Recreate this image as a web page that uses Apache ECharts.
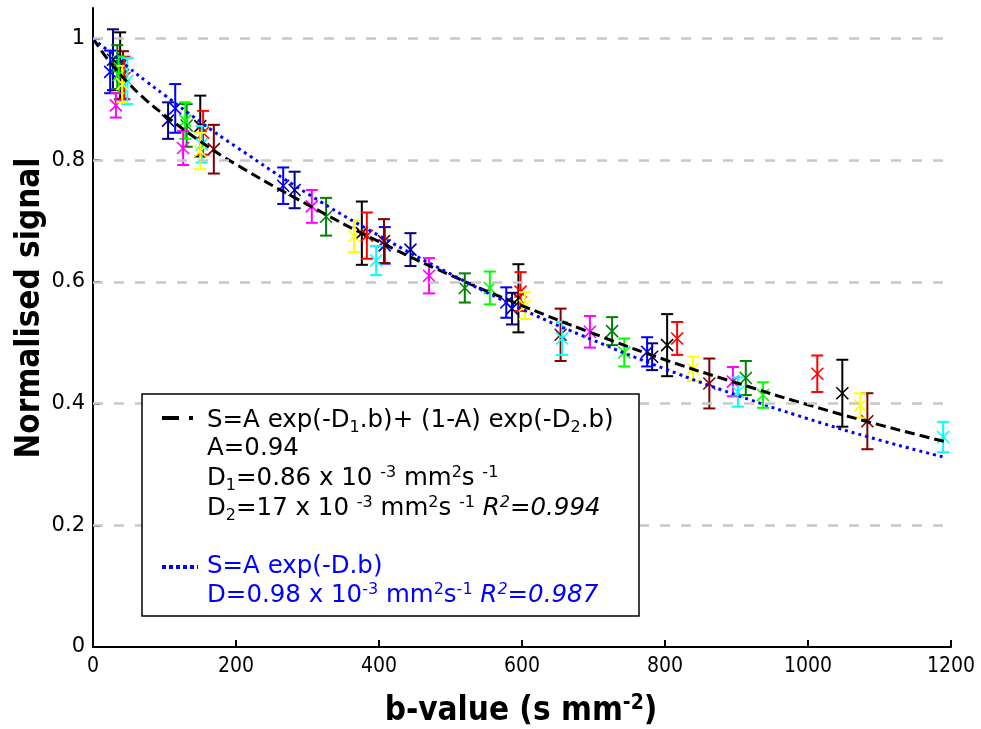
<!DOCTYPE html>
<html>
<head>
<meta charset="utf-8">
<script src="https://cdn.jsdelivr.net/npm/echarts@6/dist/echarts.min.js"></script>
<style>
html, body { margin: 0; padding: 0; background: #fff; }
#chart { width: 981px; height: 729px; }
</style>
</head>
<body>
<div id="chart"></div>
<script>
// axis ticks
var xTicks = [0, 200, 400, 600, 800, 1000, 1200];
var yTicks = [0, 0.2, 0.4, 0.6, 0.8, 1];
var gridValues = [0.2, 0.4, 0.6, 0.8, 1];

// measured points, one array per subject: [b-value, signal, error]
var navyPts    = [[28, 0.965, 0.05], [105, 0.865, 0.03], [282, 0.751, 0.03], [444, 0.653, 0.027], [586, 0.556, 0.026], [782, 0.477, 0.022]];
var bluePts    = [[24, 0.945, 0.035], [115, 0.885, 0.04], [266, 0.758, 0.03], [408, 0.66, 0.03], [578, 0.566, 0.025], [775, 0.485, 0.024]];
var blackPts   = [[38, 0.955, 0.055], [150, 0.856, 0.05], [376, 0.68, 0.052], [595, 0.573, 0.056], [803, 0.496, 0.051], [1048, 0.417, 0.055]];
var maroonPts  = [[42, 0.94, 0.039], [169, 0.818, 0.04], [407, 0.667, 0.036], [654, 0.513, 0.043], [862, 0.433, 0.041], [1083, 0.371, 0.046]];
var redPts     = [[44, 0.935, 0.035], [154, 0.845, 0.036], [383, 0.676, 0.038], [598, 0.584, 0.032], [817, 0.507, 0.027], [1013, 0.449, 0.03]];
var greenPts   = [[34, 0.953, 0.036], [131, 0.857, 0.035], [326, 0.707, 0.031], [520, 0.59, 0.024], [726, 0.519, 0.023], [913, 0.442, 0.028]];
var limePts    = [[36, 0.94, 0.03], [129, 0.865, 0.03], [555, 0.59, 0.027], [743, 0.484, 0.023], [937, 0.414, 0.021]];
var magentaPts = [[32, 0.89, 0.02], [126, 0.82, 0.028], [306, 0.724, 0.027], [470, 0.61, 0.029], [695, 0.518, 0.026], [895, 0.436, 0.024]];
var cyanPts    = [[48, 0.93, 0.038], [152, 0.826, 0.03], [396, 0.635, 0.024], [656, 0.507, 0.027], [902, 0.419, 0.024], [1189, 0.345, 0.025]];
var yellowPts  = [[41, 0.925, 0.03], [150, 0.815, 0.03], [365, 0.675, 0.026], [604, 0.561, 0.022], [839, 0.457, 0.02], [1073, 0.397, 0.02]];

// fitted curves
var fitB     = [0, 25, 50, 75, 100, 150, 200, 300, 400, 500, 600, 700, 800, 900, 1000, 1100, 1190];
var biexpFit = [1.000, 0.959, 0.926, 0.898, 0.874, 0.831, 0.793, 0.727, 0.666, 0.611, 0.561, 0.515, 0.472, 0.434, 0.398, 0.365, 0.338];
var monoFit  = [1.000, 0.976, 0.952, 0.929, 0.907, 0.863, 0.822, 0.745, 0.676, 0.613, 0.555, 0.504, 0.457, 0.414, 0.375, 0.340, 0.312];

var groups = [
    { pts: navyPts, color: '#000080' },
    { pts: bluePts, color: '#0000ff' },
    { pts: blackPts, color: '#000000' },
    { pts: maroonPts, color: '#800000' },
    { pts: redPts, color: '#ff0000' },
    { pts: greenPts, color: '#008000' },
    { pts: limePts, color: '#00ff00' },
    { pts: magentaPts, color: '#ff00ff' },
    { pts: cyanPts, color: '#00ffff' },
    { pts: yellowPts, color: '#ffff00' }
];

// error bar + cross
function renderErr(params, api) {
    var b = api.value(0), s = api.value(1), e = api.value(2);
    var c = api.coord([b, s]);
    var hi = api.coord([b, s + e]);
    var lo = api.coord([b, s - e]);
    var col = api.visual('color');
    var cap = 6, m = 6;
    var st = { stroke: col, lineWidth: 2 };
    var st2 = { stroke: col, lineWidth: 1.6 };
    return {
        type: 'group',
        children: [
            { type: 'line', shape: { x1: c[0], y1: hi[1], x2: c[0], y2: lo[1] }, style: st },
            { type: 'line', shape: { x1: c[0] - cap, y1: hi[1], x2: c[0] + cap, y2: hi[1] }, style: st },
            { type: 'line', shape: { x1: c[0] - cap, y1: lo[1], x2: c[0] + cap, y2: lo[1] }, style: st },
            { type: 'line', shape: { x1: c[0] - m, y1: c[1] - m, x2: c[0] + m, y2: c[1] + m }, style: st2 },
            { type: 'line', shape: { x1: c[0] - m, y1: c[1] + m, x2: c[0] + m, y2: c[1] - m }, style: st2 }
        ]
    };
}

function zip(xs, ys) {
    return xs.map(function (x, i) { return [x, ys[i]]; });
}

var series = [];

// grid lines
series.push({
    type: 'line',
    data: [[0, 0]],
    symbol: 'none',
    lineStyle: { opacity: 0 },
    z: 1,
    markLine: {
        silent: true,
        symbol: ['none', 'none'],
        label: { show: false },
        lineStyle: { color: '#c8c8c8', type: [10, 11], width: 2.5 },
        data: gridValues.map(function (v) { return { yAxis: v }; })
    }
});

groups.forEach(function (g) {
    series.push({
        type: 'custom',
        renderItem: renderErr,
        data: g.pts,
        itemStyle: { color: g.color },
        z: 2
    });
});

series.push({
    type: 'line',
    data: zip(fitB, biexpFit),
    smooth: true,
    symbol: 'none',
    lineStyle: { color: '#000', width: 3, type: [10, 5] },
    z: 3
});
series.push({
    type: 'line',
    data: zip(fitB, monoFit),
    smooth: true,
    symbol: 'none',
    lineStyle: { color: '#0000ff', width: 3, type: [3, 4] },
    z: 4
});

var FS = 24.5, SFS = 16;
function richFor(color) {
    return {
        sub: { fontSize: SFS, lineHeight: SFS, verticalAlign: 'bottom', fill: color, fontFamily: 'DejaVu Sans' },
        sup: { fontSize: SFS, lineHeight: SFS, verticalAlign: 'top', fill: color, fontFamily: 'DejaVu Sans' },
        it: { fontSize: FS, fontStyle: 'italic', fill: color, fontFamily: 'DejaVu Sans' },
        itsup: { fontSize: SFS, lineHeight: SFS, verticalAlign: 'top', fontStyle: 'italic', fill: color, fontFamily: 'DejaVu Sans' }
    };
}

var legendLines = [
    { t: 'S=A exp(-D{sub|1}.b)+ (1-A) exp(-D{sub|2}.b)', y: 421, c: '#000' },
    { t: 'A=0.94', y: 449, c: '#000' },
    { t: 'D{sub|1}=0.86 x 10 {sup|-3} mm{sup|2}s {sup|-1}', y: 479, c: '#000' },
    { t: 'D{sub|2}=17 x 10 {sup|-3} mm{sup|2}s {sup|-1} {it|R}{itsup|2}{it|=0.994}', y: 509, c: '#000' },
    { t: 'S=A exp(-D.b)', y: 567, c: '#0000ff' },
    { t: 'D=0.98 x 10{sup|-3} mm{sup|2}s{sup|-1} {it|R}{itsup|2}{it|=0.987}', y: 596, c: '#0000ff' }
];

var graphics = [
    { type: 'rect', shape: { x: 142, y: 394, width: 497, height: 222 }, style: { fill: '#fff', stroke: '#000', lineWidth: 1.5 }, z: 100 },
    { type: 'line', shape: { x1: 162, y1: 418, x2: 179, y2: 418 }, style: { stroke: '#000', lineWidth: 4 }, z: 101 },
    { type: 'rect', shape: { x: 189, y: 416, width: 4, height: 4 }, style: { fill: '#000' }, z: 101 },
    { type: 'line', shape: { x1: 162, y1: 567, x2: 198, y2: 567 }, style: { stroke: '#0000ff', lineWidth: 4, lineDash: [4, 3] }, z: 101 },
    {
        type: 'text', x: 30, y: 308, rotation: Math.PI / 2, z: 101,
        style: { text: 'Normalised signal', fontFamily: 'DejaVu Sans Condensed', fontWeight: 'bold', fontSize: 33, fill: '#000', align: 'center', verticalAlign: 'middle' }
    },
    {
        type: 'text', x: 521, y: 711, z: 101,
        style: {
            text: 'b-value (s mm{sup|-2})', fontFamily: 'DejaVu Sans Condensed', fontWeight: 'bold', fontSize: 33,
            fill: '#000', align: 'center', verticalAlign: 'middle', lineHeight: 36,
            rich: { sup: { fontFamily: 'DejaVu Sans Condensed', fontWeight: 'bold', fontSize: 21, lineHeight: 20, verticalAlign: 'top', fill: '#000' } }
        }
    }
];

legendLines.forEach(function (l) {
    graphics.push({
        type: 'text', x: 207, y: l.y, z: 101,
        style: {
            text: l.t, fontFamily: 'DejaVu Sans', fontSize: FS, fill: l.c,
            align: 'left', verticalAlign: 'middle', lineHeight: 29, rich: richFor(l.c)
        }
    });
});

var chart = echarts.init(document.getElementById('chart'));
chart.setOption({
    animation: false,
    backgroundColor: '#fff',
    grid: { left: 93, right: 30, top: 8, bottom: 82, containLabel: false },
    xAxis: {
        type: 'value',
        min: xTicks[0],
        max: xTicks[xTicks.length - 1],
        interval: 200,
        axisLine: { lineStyle: { color: '#000', width: 2 } },
        axisTick: { inside: true, length: 7, lineStyle: { color: '#000', width: 2 } },
        axisLabel: {
            color: '#000', fontFamily: 'DejaVu Sans Condensed', fontSize: 21, margin: 9,
            formatter: function (v) { return String(v); }
        },
        splitLine: { show: false }
    },
    yAxis: {
        type: 'value',
        min: 0,
        max: 1.05,
        interval: 0.2,
        axisLine: { show: true, lineStyle: { color: '#000', width: 2 } },
        axisTick: { show: true, inside: true, length: 7, lineStyle: { color: '#000', width: 2 }, customValues: yTicks },
        axisLabel: {
            color: '#000', fontFamily: 'DejaVu Sans', fontSize: 21, margin: 8,
            customValues: yTicks,
            formatter: function (v) {
                var k = Math.round(v * 5);
                if (Math.abs(v * 5 - k) > 1e-6) return '';
                return String(yTicks[k]);
            }
        },
        splitLine: { show: false }
    },
    graphic: graphics,
    series: series
});
</script>
</body>
</html>
